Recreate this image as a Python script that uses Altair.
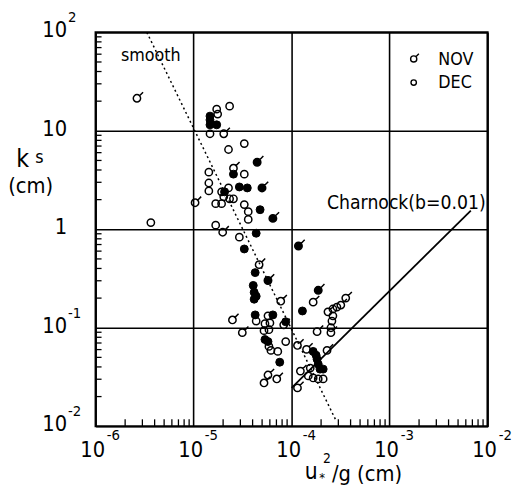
import altair as alt
import pandas as pd

# ---------------- data ----------------
# DEC (open circles)
dec_x = [3.66e-6, 1.72e-5, 1.76e-5, 2.33e-5, 1.47e-5, 3.29e-5, 2.27e-5, 1.43e-5, 3.29e-5, 1.43e-5,
         2.27e-5, 1.43e-5, 1.93e-5, 2.03e-5, 2.33e-5, 2.55e-5, 1.68e-5, 1.93e-5, 3.29e-5, 3.61e-5,
         3.61e-5, 1.68e-5, 2.93e-5, 5.74e-5, 4.35e-5, 5.35e-5, 6.01e-5, 5.23e-5, 5.87e-5, 8.71e-5,
         5.87e-5, 6.15e-5, 7.23e-5, 1.55e-4, 1.48e-4, 1.66e-4, 1.87e-4, 2.10e-4, 2.64e-4, 2.90e-4,
         2.64e-4, 2.58e-4, 2.52e-4]
dec_y = [1.17, 16.6, 14.8, 17.8, 9.33, 7.41, 6.46, 3.80, 3.63, 2.95,
         2.63, 2.45, 2.40, 2.14, 2.04, 2.04, 1.82, 1.82, 1.78, 1.51,
         1.26, 1.10, 0.832, 0.132, 0.117, 0.110, 0.112, 0.0933, 0.0955, 0.0724,
         0.0646, 0.0589, 0.0575, 0.0389, 0.0324, 0.0309, 0.0302, 0.0302, 0.155, 0.162,
         0.132, 0.117, 0.100]

# NOV (open circles with tail)
nov_x = [2.64e-6, 2.03e-5, 2.55e-5, 1.035e-5, 1.98e-5, 4.66e-5, 1.66e-4, 7.75e-5, 2.49e-5, 8.31e-5,
         3.14e-5, 1.148e-4, 1.42e-4, 2.30e-4, 1.23e-4, 5.74e-5, 7.06e-5, 5.23e-5, 1.148e-4, 3.57e-4,
         2.35e-4, 3.18e-4, 2.52e-4, 1.82e-4]
nov_y = [21.4, 9.33, 4.17, 1.86, 0.933, 0.437, 0.182, 0.186, 0.120, 0.107,
         0.0891, 0.0661, 0.0603, 0.0589, 0.0363, 0.0331, 0.0302, 0.0275, 0.0245, 0.200,
         0.145, 0.170, 0.0891, 0.0912]

# filled circles
fill_x = [1.47e-5, 1.47e-5, 1.47e-5, 1.72e-5, 2.55e-5, 2.93e-5, 3.53e-5, 2.07e-5, 4.77e-5, 4.35e-5,
          3.29e-5, 4.25e-5, 4.06e-5, 4.15e-5, 4.35e-5, 4.15e-5, 1.29e-4, 4.25e-5, 6.44e-5, 8.71e-5,
          5.35e-5, 5.74e-5, 1.66e-4, 1.78e-4, 1.82e-4, 7.57e-5, 1.87e-4, 1.95e-4, 2.10e-4]
fill_y = [14.1, 12.9, 11.5, 11.5, 3.63, 2.69, 2.63, 2.40, 1.58, 0.912,
          0.631, 0.363, 0.269, 0.229, 0.209, 0.195, 0.148, 0.135, 0.135, 0.115,
          0.0759, 0.0724, 0.0575, 0.0525, 0.0479, 0.0447, 0.0427, 0.0380, 0.0380]

# filled circles with tail
filltail_x = [4.45e-5, 4.99e-5, 6.44e-5, 1.175e-4, 5.74e-5, 1.87e-4]
filltail_y = [4.79, 2.63, 1.29, 0.676, 0.302, 0.240]

# reference lines
smooth_x = [3.33e-6, 2.83e-4]
smooth_y = [100, 0.0115]
charnock_x = [1.0e-4, 6.75e-3]
charnock_y = [0.0245, 1.55]

x_decades = [1e-6, 1e-5, 1e-4, 1e-3, 1e-2]
x_exps = ["-6", "-5", "-4", "-3", "-2"]
y_decades = [1e-2, 1e-1, 1, 10, 100]
y_main = ["10", "10", "1", "10", "10"]
y_exps = ["-2", "-1", "", "", "2"]

W, H = 398, 400
FONT = "Liberation Sans Narrow, DejaVu Sans Condensed, DejaVu Sans Mono"

xs = alt.Scale(type="log", domain=[1e-6, 1e-2], nice=False)
ys = alt.Scale(type="log", domain=[1e-2, 1e2], nice=False)
xax = alt.Axis(values=x_decades, grid=True, labels=False, ticks=False, domain=False, title=None,
               gridColor="black", gridWidth=1.6, gridOpacity=1)
yax = alt.Axis(values=y_decades, grid=True, labels=False, ticks=False, domain=False, title=None,
               gridColor="black", gridWidth=1.6, gridOpacity=1)

NOV_PATH = ("M -0.6 0 A 0.6 0.6 0 1 0 0.6 0 A 0.6 0.6 0 1 0 -0.6 0 Z "
            "M 0.42 -0.42 L 1 -1")

def pts(xv, yv):
    return pd.DataFrame({"x": xv, "y": yv})

enc = dict(x=alt.X("x:Q", scale=xs, axis=xax), y=alt.Y("y:Q", scale=ys, axis=yax))

dec_layer = alt.Chart(pts(dec_x, dec_y)).mark_point(
    shape="circle", size=55, filled=False, stroke="black", strokeWidth=1.5, opacity=1
).encode(**enc)
nov_layer = alt.Chart(pts(nov_x, nov_y)).mark_point(
    shape=NOV_PATH, size=154, filled=False, stroke="black", strokeWidth=1.5, opacity=1
).encode(**enc)
fill_layer = alt.Chart(pts(fill_x, fill_y)).mark_point(
    shape="circle", size=65, filled=True, fill="black", stroke="black", strokeWidth=1, opacity=1
).encode(**enc)
filltail_layer = alt.Chart(pts(filltail_x, filltail_y)).mark_point(
    shape=NOV_PATH, size=160, filled=True, fill="black", stroke="black", strokeWidth=1.5, opacity=1
).encode(**enc)

smooth_line = alt.Chart(pts(smooth_x, smooth_y)).mark_line(
    color="black", strokeWidth=1.5, strokeDash=[2, 3]
).encode(**enc)
charnock_line = alt.Chart(pts(charnock_x, charnock_y)).mark_line(
    color="black", strokeWidth=1.8
).encode(**enc)

# minor ticks (inside)
y_minor = [k * d for d in [1e-2, 1e-1, 1, 10] for k in range(2, 10)]
x_minor = [k * d for d in [1e-6, 1e-5, 1e-4, 1e-3] for k in range(2, 10)]
ytick = alt.Chart(pd.DataFrame({"v": y_minor})).mark_rule(color="black", strokeWidth=1.3).encode(
    y=alt.Y("v:Q", scale=ys, axis=yax), x=alt.value(0), x2=alt.value(6))
xtick = alt.Chart(pd.DataFrame({"v": x_minor})).mark_rule(color="black", strokeWidth=1.3).encode(
    x=alt.X("v:Q", scale=xs, axis=xax), y=alt.value(H), y2=alt.value(H - 7))

# tick labels
xlab = alt.Chart(pd.DataFrame({"v": x_decades, "t": ["10"] * 5, "e": x_exps}))
xlab_main = xlab.mark_text(font=FONT, fontSize=22, dx=-3, baseline="middle").encode(
    x=alt.X("v:Q", scale=xs, axis=xax), y=alt.value(H + 24), text="t:N")
xlab_exp = xlab.mark_text(font=FONT, fontSize=15, dx=18, baseline="middle").encode(
    x=alt.X("v:Q", scale=xs, axis=xax), y=alt.value(H + 9), text="e:N")

ylab = alt.Chart(pd.DataFrame({"v": y_decades, "t": y_main, "e": y_exps}))
ylab_main = ylab.mark_text(font=FONT, fontSize=22, align="right", dy=-2, baseline="middle").encode(
    y=alt.Y("v:Q", scale=ys, axis=yax), x=alt.value(-29), text="t:N")
ylab_exp = ylab.mark_text(font=FONT, fontSize=15, align="left", dy=-15, baseline="middle").encode(
    y=alt.Y("v:Q", scale=ys, axis=yax), x=alt.value(-28), text="e:N")

def label(txt, x, y, size, align="left"):
    return alt.Chart(pd.DataFrame({"t": [txt]})).mark_text(
        font=FONT, fontSize=size, align=align, baseline="middle", color="black"
    ).encode(x=alt.value(x), y=alt.value(y), text="t:N")

texts = [
    label("smooth", 56, 24, 18, "center"),
    label("Charnock(b=0.01)", 235, 173, 19.5),
    label("NOV", 348, 28, 18),
    label("DEC", 348, 52, 18),
    # y title
    label("k", -74, 129, 25, "center"),
    label("s", -57, 128, 18, "center"),
    label("(cm)", -66, 156, 22, "center"),
    # x title
    label("u", 219, 447, 23, "center"),
    label("*", 230, 453, 13, "center"),
    label("2", 235, 433, 14, "center"),
    label("/g (cm)", 240, 449, 22),
]

leg_nov = alt.Chart(pd.DataFrame({"a": [0]})).mark_point(
    shape=NOV_PATH, size=110, filled=False, stroke="black", strokeWidth=1.4, opacity=1
).encode(x=alt.value(323), y=alt.value(27))
leg_dec = alt.Chart(pd.DataFrame({"a": [0]})).mark_point(
    shape="circle", size=30, filled=False, stroke="black", strokeWidth=1.4, opacity=1
).encode(x=alt.value(323), y=alt.value(51))

chart = alt.layer(
    ytick, xtick, smooth_line, charnock_line,
    dec_layer, nov_layer, fill_layer, filltail_layer,
    xlab_main, xlab_exp, ylab_main, ylab_exp,
    leg_nov, leg_dec, *texts
).properties(
    width=W, height=H,
    autosize=alt.AutoSizeParams(type="none"),
    padding={"left": 89, "top": 21, "right": 36, "bottom": 57},
    background="white",
).configure_view(stroke="black", strokeWidth=2.2)

chart.save("out.html", embed_options={"renderer": "svg", "actions": False})
